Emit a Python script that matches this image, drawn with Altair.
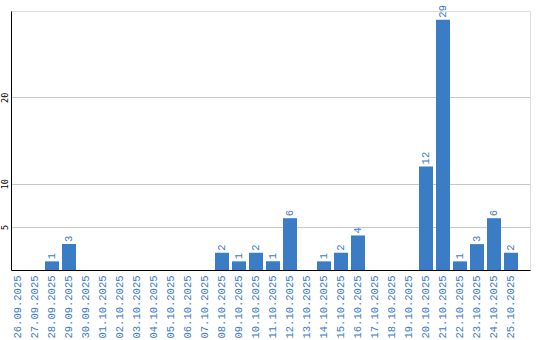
import altair as alt
import pandas as pd

dates = ["26.09.2025", "27.09.2025", "28.09.2025", "29.09.2025", "30.09.2025",
         "01.10.2025", "02.10.2025", "03.10.2025", "04.10.2025", "05.10.2025",
         "06.10.2025", "07.10.2025", "08.10.2025", "09.10.2025", "10.10.2025",
         "11.10.2025", "12.10.2025", "13.10.2025", "14.10.2025", "15.10.2025",
         "16.10.2025", "17.10.2025", "18.10.2025", "19.10.2025", "20.10.2025",
         "21.10.2025", "22.10.2025", "23.10.2025", "24.10.2025", "25.10.2025"]
values = [0, 0, 1, 3, 0,
          0, 0, 0, 0, 0,
          0, 0, 2, 1, 2,
          1, 6, 0, 1, 2,
          4, 0, 0, 0, 12,
          29, 1, 3, 6, 2]
y_ticks = [5, 10, 20]

df = pd.DataFrame({"date": dates, "value": values})

BLUE = "#3b7dc4"
TEXT_BLUE = "#3a7bc8"
FONT = "Liberation Mono"

x_enc = alt.X("date:N", sort=dates,
              scale=alt.Scale(paddingInner=0.1765, paddingOuter=0.353, align=0),
              axis=alt.Axis(title=None, labelAngle=270, labelAlign="right",
                            labelBaseline="middle", labelColor=TEXT_BLUE,
                            labelFont=FONT, labelFontSize=10.5, ticks=False,
                            labelPadding=5, domainColor="#000000", domainWidth=1,
                            grid=False, labelOverlap=False))
y_scale = alt.Scale(domain=[0, 30], nice=False)

bars = alt.Chart(df).mark_bar(color=BLUE).encode(
    x=x_enc,
    y=alt.Y("value:Q", scale=y_scale,
            axis=alt.Axis(title=None, values=y_ticks, labelAngle=270,
                          labelAlign="center", labelBaseline="bottom",
                          labelFont="DejaVu Sans Mono", labelFontSize=8.5,
                          labelColor="#000000",
                          ticks=False, labelPadding=2, domainColor="#000000",
                          domainWidth=1, gridColor="#c8c8c8", gridWidth=1)),
)

labels = alt.Chart(df).transform_filter(alt.datum.value > 0).mark_text(
    angle=270, align="left", baseline="middle", dx=2, dy=0,
    color=TEXT_BLUE, font=FONT, fontSize=10.5
).encode(
    x=alt.X("date:N", sort=dates),
    y=alt.Y("value:Q", scale=y_scale),
    text="value:Q",
)

chart = (bars + labels).properties(
    width=519, height=259,
    autosize=alt.AutoSizeParams(type="none"),
    padding={"left": 11, "top": 11, "right": 10, "bottom": 70},
).configure_view(stroke=None).configure(background="#ffffff")

chart.save("out.html", embed_options={"renderer": "svg", "actions": False})
